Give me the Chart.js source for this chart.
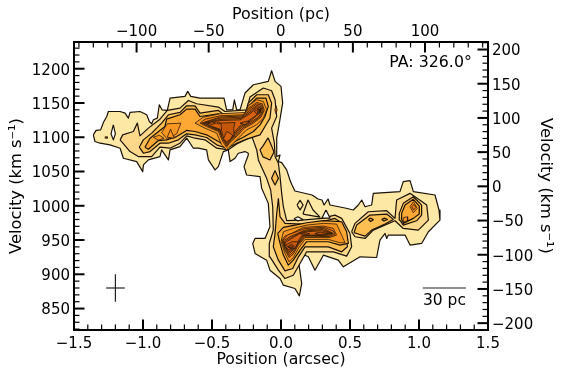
<!DOCTYPE html>
<html><head><meta charset="utf-8">
<style>html,body{margin:0;padding:0;background:#fff}canvas{display:block}</style>
<script src="https://cdn.jsdelivr.net/npm/chart.js@4"></script></head>
<body><canvas id="c" width="563" height="376"></canvas>
<script>
const xTicks=[-1.5,-1,-0.5,0,0.5,1,1.5];
const yTicks=[850,900,950,1000,1050,1100,1150,1200];
const pcTicks=[-100,-50,0,50,100];
const vTicks=[-200,-150,-100,-50,0,50,100,150,200];
const level1=[[-1.360,1103.5],[-1.340,1110],[-1.307,1110.8],[-1.287,1121.5],[-1.263,1130.3],[-1.251,1137.6],[-1.166,1137.6],[-1.130,1135.2],[-1.106,1127.9],[-1.094,1136.2],[-1.022,1137.6],[-.973,1132.8],[-.954,1123],[-.937,1119.6],[-.925,1125.5],[-.896,1127.9],[-.882,1147.4],[-.862,1140],[-.824,1139.1],[-.804,1157.1],[-.696,1159.6],[-.676,1166.9],[-.654,1159.6],[-.587,1157.1],[-.413,1157.1],[-.394,1140],[-.350,1140],[-.338,1154.7],[-.321,1140],[-.297,1140],[-.261,1164.5],[-.200,1176.6],[-.092,1181.5],[-.068,1197.1],[-.043,1181.5],[0,1174.2],[.012,1149.8],[-.012,1120.6],[-.031,1098.6],[-.031,1071.8],[-.007,1074.2],[-.019,1064.4],[.005,1063],[.041,1052.3],[.065,1037.6],[.080,1030.3],[.101,1021.6],[.225,1015.7],[.268,1009.9],[.297,1008.4],[.312,1001.1],[.341,1009.9],[.355,1001.1],[.464,996.7],[.524,993.8],[.560,1001.1],[.585,1008.4],[.609,998.6],[.657,1001.1],[.669,1018.1],[.862,1020.6],[.886,1035.2],[.935,1036.7],[.959,1020.6],[1.116,1015.7],[1.145,993.8],[1.152,979.1],[1.068,962.1],[1.019,945],[.935,942.6],[.899,957.2],[.778,957.2],[.766,952.3],[.754,959.6],[.717,949.9],[.693,924.5],[.573,925.5],[.452,910.9],[.415,920.6],[.307,927.9],[.246,906],[.198,925.5],[.174,927.9],[.126,920.6],[.150,886.5],[.133,868.5],[.101,879.2],[.017,884.1],[-.007,893.8],[-.080,906],[-.104,920.6],[-.188,930.4],[-.205,945],[-.188,952.3],[-.116,952.3],[-.080,969.4],[-.092,1003.5],[-.140,1025.4],[-.152,1042.5],[-.249,1044.9],[-.268,1057.1],[-.237,1074.2],[-.237,1076.7],[-.261,1079.1],[-.309,1076.7],[-.333,1069.4],[-.369,1064.5],[-.382,1081.6],[-.418,1079.1],[-.454,1057.2],[-.478,1052.3],[-.526,1067],[-.539,1081.6],[-.599,1084],[-.635,1084],[-.683,1098.6],[-.732,1086.4],[-.804,1081.6],[-.816,1067],[-.865,1081.6],[-.877,1071.8],[-.961,1067],[-.997,1059.6],[-1.002,1049.9],[-1.046,1064.5],[-1.142,1069.4],[-1.166,1084],[-1.239,1088.9],[-1.311,1091.3],[-1.348,1093.8]];
const level1Inner=[[.159,987.9],[.196,1008.4],[.232,993.8],[.283,983.5]];
const level2Main=[[-1.166,1096.2],[-1.147,1103.5],[-1.070,1108.4],[-1.041,1120.6],[-1.022,1102],[-.961,1113.3],[-.877,1126.4],[-.824,1139.1],[-.732,1142.5],[-.671,1153.7],[-.611,1148.9],[-.454,1144],[-.406,1137.6],[-.249,1140],[-.225,1158.6],[-.128,1171.8],[-.068,1167.9],[-.043,1154.7],[-.031,1130.3],[-.068,1113.3],[-.048,1091.3],[-.043,1071.8],[-.019,1062],[-.007,1042.5],[.005,1018.1],[.017,998.6],[.041,978.2],[.150,979.1],[.295,981.6],[.391,986.4],[.440,981.6],[.500,959.6],[.512,940.1],[.476,926.5],[.379,932.8],[.186,932.8],[.138,915.8],[.089,898.7],[.029,893.8],[-.019,906],[-.080,925.5],[-.085,945],[-.056,964.5],[-.060,998.6],[-.075,1023],[-.104,1040],[-.164,1066.9],[-.176,1081.5],[-.210,1100.6],[-.261,1096.2],[-.321,1090.3],[-.382,1081.6],[-.466,1084],[-.551,1096.2],[-.623,1098.6],[-.683,1102],[-.732,1091.3],[-.804,1084],[-.877,1085.5],[-.937,1071.8],[-1.034,1071.8],[-1.094,1079.1]];
const level2Right=[[.512,962.1],[.536,974.3],[.633,991.3],[.766,992.8],[.826,981.6],[.838,1008.4],[.935,1018.1],[1.056,1001.1],[1.068,979.1],[.995,964.5],[.886,966.9],[.826,978.2],[.669,964.5],[.609,952.3],[.536,954.8]];
const level3Left=[[-1.027,1085.5],[-.998,1096.2],[-.937,1106],[-.865,1120.6],[-.816,1132.8],[-.732,1136.2],[-.684,1145.9],[-.623,1145.9],[-.587,1135.2],[-.454,1139.1],[-.418,1133.7],[-.261,1132.8],[-.237,1149.8],[-.176,1162],[-.092,1162],[-.068,1149.8],[-.080,1127.9],[-.116,1115.7],[-.152,1103.5],[-.249,1097.2],[-.321,1091.3],[-.394,1084],[-.466,1088.9],[-.539,1099.6],[-.623,1103.5],[-.684,1105],[-.744,1096.2],[-.816,1091.3],[-.877,1091.3],[-.949,1079.1],[-.997,1076.7]];
const level3Stem1=[[-.094,1099.1],[-.065,1085.9],[-.051,1078.6],[-.080,1066.9],[-.130,1071.3],[-.152,1081.5],[-.130,1087.4]];
const level3Stem2=[[-.043,1051.3],[-.019,1040],[-.043,1030.3],[-.068,1040]];
const level3Lower=[[-.019,1010.8],[-.007,984],[.029,974.3],[.150,973.3],[.295,976.7],[.391,981.6],[.428,976.7],[.476,952.3],[.481,940.1],[.440,932.8],[.343,940.1],[.174,940.1],[.126,925.5],[.085,908.4],[.029,905],[-.019,920.6],[-.056,940.1],[-.043,959.6],[-.031,988.9]];
const level3Right=[[.529,960.6],[.548,971.8],[.645,986.4],[.766,987.9],[.814,980.1],[.754,973.3],[.657,964.5],[.609,955.7],[.548,959.6]];
const level3Blob=[[.857,988.9],[.886,1003.5],[.959,1013.2],[1.019,1001],[1.019,986.4],[.983,978.1],[.886,971.8],[.862,979.1]];
const level4Left=[[-.986,1085.5],[-.949,1098.6],[-.841,1115.7],[-.829,1126.4],[-.732,1132.8],[-.684,1141],[-.623,1141],[-.587,1130.3],[-.454,1134.2],[-.418,1129.3],[-.261,1127.9],[-.237,1145],[-.176,1157.1],[-.109,1157.1],[-.092,1145],[-.116,1130.3],[-.152,1118.1],[-.200,1108.4],[-.273,1100.1],[-.333,1093.8],[-.394,1087.4],[-.454,1093.8],[-.539,1103.5],[-.623,1108.4],[-.684,1109.9],[-.756,1101],[-.829,1096.2],[-.889,1095.2],[-.961,1082.5]];
const level4Lower=[[-.024,959.7],[.017,968.4],[.101,971.8],[.186,975.2],[.307,978.2],[.440,976.7],[.476,962.1],[.488,945],[.428,942.6],[.343,947.5],[.186,947.5],[.138,935.3],[.089,920.6],[.053,913.3],[.017,928],[-.007,945]];
const level4Blob=[[.874,988.9],[.899,1001],[.959,1009.4],[1.002,999.6],[1.002,987.9],[.959,981.6],[.886,974.3],[.872,981.6]];
const level5Left=[[-.824,1119.6],[-.725,1120.6],[-.756,1105],[-.824,1097.2],[-.865,1106.9]];
const level5Main=[[-.623,1120.6],[-.563,1129.3],[-.442,1134.2],[-.261,1136.2],[-.237,1145.9],[-.176,1154.7],[-.128,1152.2],[-.104,1140],[-.128,1127.9],[-.176,1118.1],[-.249,1110.8],[-.297,1101],[-.357,1088.9],[-.394,1081.5],[-.430,1088.9],[-.466,1105.9],[-.551,1113.2]];
const level5Lower=[[.017,962.1],[.089,967],[.186,971.8],[.307,974.3],[.403,973.3],[.428,962.1],[.464,946],[.428,946],[.343,950.9],[.174,950.9],[.126,937.7],[.089,924.5],[.058,918.2],[.029,930.4],[0,947.5]];
const level5Tri=[[-.824,1100],[-.800,1111.8],[-.773,1098.6]];
const level5Oval=[[-.925,1100],[-.882,1103],[-.848,1098.6],[-.889,1095.7]];
const level5BlobA=[[.935,998.6],[.959,1005.9],[.988,996.2],[.959,989.9]];
const level6Main=[[-.587,1120.6],[-.551,1126.4],[-.442,1131.3],[-.273,1132.7],[-.237,1142.5],[-.176,1150.8],[-.135,1148.8],[-.121,1139.1],[-.145,1129.3],[-.200,1120.6],[-.266,1113.2],[-.309,1103.5],[-.370,1092.3],[-.394,1085.4],[-.418,1092.3],[-.454,1108.4],[-.539,1115.7]];
const level6Lower=[[.005,949.9],[.029,955.7],[.077,959.6],[.162,968.4],[.307,970.4],[.379,967],[.403,957.2],[.355,953.8],[.174,953.8],[.126,942.6],[.089,929.4],[.058,924.5],[.029,935.3]];
const level6bMain=[[-.575,1120.6],[-.442,1129.6],[-.280,1131],[-.231,1141],[-.176,1148.6],[-.140,1147],[-.128,1138.4],[-.155,1129.3],[-.212,1121],[-.275,1114],[-.320,1103.5],[-.373,1093],[-.394,1087.6],[-.414,1094],[-.448,1109],[-.533,1116.6]];
const level6bLower=[[.011,949.4],[.047,957.4],[.168,966.4],[.307,968.7],[.379,963.3],[.391,958.4],[.349,955],[.174,955.5],[.126,944.3],[.089,932.3],[.058,927.4],[.029,937.7]];
const level7Main=[[-.563,1120.6],[-.442,1127.9],[-.285,1129.3],[-.225,1139.1],[-.176,1146.4],[-.145,1144.9],[-.135,1137.6],[-.164,1129.3],[-.225,1121.5],[-.285,1114.7],[-.333,1103.5],[-.377,1093.7],[-.394,1089.8],[-.411,1096.2],[-.442,1109.8],[-.527,1117.6]];
const level7Lower=[[.017,948.9],[.065,954.8],[.174,964.5],[.307,967],[.379,959.6],[.343,956.2],[.174,957.2],[.126,946],[.089,935.3],[.058,930.4],[.029,940.1]];
const level7bMain=[[-.551,1120.6],[-.442,1126],[-.291,1127.3],[-.225,1136.6],[-.176,1144.5],[-.150,1143],[-.147,1136.4],[-.225,1123.4],[-.287,1116.4],[-.333,1106],[-.373,1095],[-.394,1091.8],[-.418,1097.4],[-.442,1110.8],[-.520,1117]];
const level7bLower=[[.023,947.4],[.071,953.6],[.156,962],[.186,963.3],[.301,965.3],[.373,959.6],[.319,957.2],[.162,956.7],[.120,946],[.089,936.5],[.058,932.9],[.031,940.1]];
const level8Main=[[-.539,1120.6],[-.442,1124.4],[-.297,1125.4],[-.225,1134.2],[-.176,1142.5],[-.155,1141],[-.159,1135.2],[-.225,1125.4],[-.290,1118.1],[-.333,1108.4],[-.370,1096.2],[-.394,1093.7],[-.425,1098.6],[-.442,1111.8],[-.514,1116.6]];
const level8Lower=[[.029,946],[.077,952.3],[.138,959.6],[.186,962.1],[.295,963.6],[.367,959.6],[.295,958.2],[.150,956.2],[.114,946],[.089,937.7],[.058,935.3],[.034,940.1]];
const level9Core=[[-.435,1120.6],[-.333,1121.5],[-.343,1113.2],[-.338,1101],[-.370,1105.9],[-.394,1108.4],[-.415,1098.6],[-.430,1108.4]];
const level9Lower=[[.034,942.6],[.077,947.5],[.126,947.5],[.101,937.7],[.065,937.7]];
const level10Lower=[[.048,940.1],[.077,943.6],[.097,940.1],[.065,938.7]];
const level9A=[[-.531,1120.6],[-.502,1122.5],[-.473,1120.6],[-.502,1118.6]];
const level9B=[[-.466,1120.6],[-.454,1122],[-.437,1120.6],[-.454,1119.1]];
const level9C=[[-.297,1120.6],[-.266,1122.5],[-.225,1123],[-.261,1118.1]];
const level9D=[[-.193,1137.6],[-.164,1141],[-.174,1133.2]];
const level9E=[[.246,959.6],[.283,961.6],[.343,959.6],[.283,957.7]];
const level9F=[[.138,959.6],[.186,960.6],[.210,958.7],[.162,957.7]];
const smallA=[[.633,980],[.650,982],[.669,979.6],[.650,977]];
const smallB=[[.729,980],[.749,982],[.771,980],[.746,977.7]];
const smallC=[[.947,998.6],[.964,1002],[.978,997.6],[.961,993.8]];
const smallD=[[.886,982.5],[.915,984],[.918,978.2],[.891,976.7]];
const holeA=[[-1.215,1118.1],[-1.200,1105],[-1.215,1096.2],[-1.232,1105]];
const holeB=[[-1.275,1100.6],[-1.258,1100.6],[-1.258,1098.6],[-1.275,1098.6]];
const holeC=[[-.036,1146],[-.028,1140],[-.036,1134],[-.044,1140]];
const holeD=[[.326,993.8],[.297,982],[.355,982]];
const holeE=[[.116,1001],[.138,1008],[.160,1001],[.138,994]];
const holeF=[[.094,981],[.123,984],[.159,980],[.123,978]];
const errH=[[-1.267,880],[-1.132,880]];
const errV=[[-1.2,860],[-1.2,900]];
const scaleBar=[[1.027,880],[1.341,880]];

const palette=['#fee8a6','#fed88a','#febf52','#fda734','#fa9522','#ef7c18','#e56f12','#d9620e','#c4560b','#8f4009','#ffffff','#ea7515','#df680f'];
const layers=[[level1,0],[level1Inner,0],[level2Main,1],[level2Right,1],[level3Left,2],[level3Stem1,2],[level3Stem2,2],[level3Lower,2],[level3Right,2],[level3Blob,2],[level4Left,3],[level4Lower,3],[level4Blob,3],[level5Left,4],[level5Main,4],[level5Lower,4],[level5Tri,4],[level5Oval,4],[level5BlobA,4],[level6Main,5],[level6Lower,5],[level6bMain,11],[level6bLower,11],[level7Main,6],[level7Lower,6],[level7bMain,12],[level7bLower,12],[level8Main,7],[level8Lower,7],[level9Core,8],[level9Lower,8],[level10Lower,9],[level9A,8],[level9B,8],[level9C,8],[level9D,8],[level9E,8],[level9F,8],[smallA,3],[smallB,3],[smallC,5],[smallD,4],[holeA,10],[holeB,8],[holeC,8],[holeD,10],[holeE,0],[holeF,10]];
const pts=a=>a.map(p=>({x:p[0],y:p[1]}));
const datasets=layers.map(([poly,lv],i)=>({data:pts([...poly,poly[0]]),fill:'shape',backgroundColor:palette[lv],borderColor:(lv>=4&&lv!==10)?'#2a1a08':'#1a1208',borderWidth:(lv>=4&&lv!==10)?0.8:1.2,pointRadius:0,tension:0,order:1000-i}));
[errH,errV,scaleBar].forEach((a,i)=>datasets.push({data:pts(a),fill:false,borderColor:'#222',borderWidth:1.2,pointRadius:0,order:-i-1}));

const FONT='"DejaVu Sans"';
const minus=v=>String(v).replace('-','\u2212');
const fix=ticks=>ax=>{ax.ticks=ticks.map(v=>({value:v}));};
const frame=[74,42,75,46];
const inward={id:'inward',afterDraw(ch){
  const c=ch.ctx,A=ch.chartArea;c.save();c.strokeStyle='#000';
  const draw=(scale,step,edge)=>{
    const n0=Math.ceil(scale.min/step),n1=Math.floor(scale.max/step);
    const major=scale.ticks.map(t=>t.value);
    for(let n=n0;n<=n1;n++){
      const v=+(n*step).toFixed(3),p=scale.getPixelForValue(v),isM=major.includes(v);
      const L=isM?10.5:5.5;c.lineWidth=isM?2:1.2;c.beginPath();
      if(edge==='b'){c.moveTo(p,A.bottom);c.lineTo(p,A.bottom-L);}
      if(edge==='t'){c.moveTo(p,A.top);c.lineTo(p,A.top+L);}
      if(edge==='l'){c.moveTo(A.left,p);c.lineTo(A.left+L,p);}
      if(edge==='r'){c.moveTo(A.right,p);c.lineTo(A.right-L,p);}
      c.stroke();
    }};
  const s=ch.scales;draw(s.x,0.1,'b');draw(s.x2,10,'t');draw(s.y,10,'l');draw(s.y2,10,'r');
  c.fillStyle='#000';c.font='15.8px '+FONT;c.textBaseline='middle';c.textAlign='left';
  c.fillText('PA: 326.0\u00b0',s.x.getPixelForValue(0.785),s.y.getPixelForValue(1208));
  c.textAlign='center';c.font='15.5px '+FONT;
  c.fillText('30 pc',s.x.getPixelForValue(1.184),s.y.getPixelForValue(861));
  c.restore();
}};
const tickFontY={family:FONT,size:15,lineHeight:0.267};
new Chart(document.getElementById('c'),{type:'line',data:{datasets},plugins:[inward],options:{
  responsive:false,animation:false,parsing:false,normalized:false,
  layout:{padding:0},
  plugins:{legend:{display:false},tooltip:{enabled:false},title:{display:false}},
  elements:{line:{borderJoinStyle:'round'}},
  scales:{
    x:{type:'linear',position:'bottom',min:-1.5,max:1.5,afterBuildTicks:fix(xTicks),afterFit:s=>{s.height=frame[3]},
      grid:{display:false,drawTicks:false},border:{display:true,color:'#000',width:2},
      ticks:{padding:5,maxRotation:0,autoSkip:false,color:'#000',font:{family:FONT,size:15},callback:v=>minus(v.toFixed(1))},
      title:{display:true,text:'Position (arcsec)',color:'#000',font:{family:FONT,size:15.7},padding:{top:0,bottom:7}}},
    x2:{type:'linear',position:'top',min:-143.4,max:143.7,afterBuildTicks:fix(pcTicks),afterFit:s=>{s.height=frame[1]},
      grid:{display:false,drawTicks:false},border:{display:true,color:'#000',width:2},
      ticks:{padding:1,maxRotation:0,autoSkip:false,color:'#000',font:{family:FONT,size:15},callback:v=>minus(v)},
      title:{display:true,text:'Position (pc)',color:'#000',font:{family:FONT,size:15.9},padding:{top:5,bottom:0}}},
    y:{type:'linear',position:'left',min:818.7,max:1239,afterBuildTicks:fix(yTicks),afterFit:s=>{s.width=frame[0]},
      grid:{display:false,drawTicks:false},border:{display:true,color:'#000',width:2},
      ticks:{padding:4,autoSkip:false,color:'#000',font:tickFontY,callback:v=>['',minus(v)]},
      title:{display:true,text:'Velocity (km s\u207b\u00b9)',color:'#000',font:{family:FONT,size:16.3},padding:{top:7,bottom:0}}},
    y2:{type:'linear',position:'right',min:-210,max:211,afterBuildTicks:fix(vTicks),afterFit:s=>{s.width=frame[2]},
      grid:{display:false,drawTicks:false},border:{display:true,color:'#000',width:2},
      ticks:{padding:4,autoSkip:false,color:'#000',font:tickFontY,callback:v=>['',minus(v)]},
      title:{display:true,text:'Velocity (km s\u207b\u00b9)',color:'#000',font:{family:FONT,size:16.3},padding:{top:8,bottom:0}}}
  }}});
</script></body></html>
